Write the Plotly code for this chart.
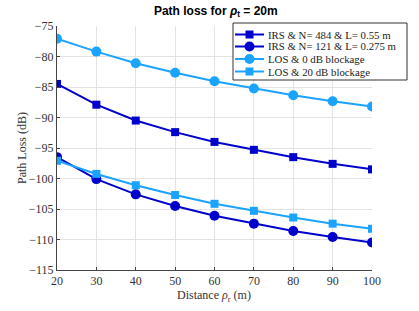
import plotly.graph_objects as go

distance = [20, 30, 40, 50, 60, 70, 80, 90, 100]
irs_484 = [-84.5, -87.9, -90.5, -92.4, -94.0, -95.3, -96.5, -97.6, -98.5]
irs_121 = [-96.5, -100.1, -102.6, -104.5, -106.1, -107.4, -108.6, -109.6, -110.5]
los_0 = [-77.1, -79.2, -81.1, -82.65, -84.05, -85.25, -86.35, -87.35, -88.2]
los_20 = [-97.1, -99.25, -101.1, -102.7, -104.15, -105.3, -106.4, -107.4, -108.25]
yticks = [-75, -80, -85, -90, -95, -100, -105, -110, -115]
legend_names = ["IRS & N= 484 & L= 0.55 m", "IRS & N= 121 & L= 0.275 m",
                "LOS & 0 dB blockage", "LOS & 20 dB blockage"]

DARK = "#0000CC"
LIGHT = "#1AA3FF"
SERIF = "Liberation Serif"

# plot area in pixels
W, H = 419, 311
L, R, T, B = 57, 47, 26, 41
PW, PH = W - L - R, H - T - B

def px(xp):
    return (xp - L) / PW

def py(yp):
    return (H - B - yp) / PH

fig = go.Figure()
series = [
    (irs_484, DARK, "square", 8),
    (irs_121, DARK, "circle", 10),
    (los_0, LIGHT, "circle", 10),
    (los_20, LIGHT, "square", 8),
]
for name, (vals, col, sym, sz) in zip(legend_names, series):
    fig.add_trace(go.Scatter(
        x=distance, y=vals, name=name, mode="lines+markers",
        line=dict(color=col, width=2),
        marker=dict(symbol=sym, size=sz, color=col),
        showlegend=False,
    ))

# manual legend (compact, as in the reference)
shapes = [dict(type="rect", xref="paper", yref="paper",
               x0=px(233), x1=px(407), y0=py(80), y1=py(23),
               fillcolor="white", line=dict(color="#333333", width=1), layer="above")]
annotations = []
rows = [34.5, 46.5, 59, 71.5]
for name, (vals, col, sym, sz), ry in zip(legend_names, series, rows):
    shapes.append(dict(type="line", xref="paper", yref="paper",
                       x0=px(235), x1=px(264), y0=py(ry), y1=py(ry),
                       line=dict(color=col, width=2), layer="above"))
    h = sz / 2
    shapes.append(dict(type="circle" if sym == "circle" else "rect",
                       xref="paper", yref="paper",
                       xsizemode="pixel", ysizemode="pixel",
                       xanchor=px(249.5), yanchor=py(ry),
                       x0=-h, x1=h, y0=-h, y1=h,
                       fillcolor=col, line=dict(color=col, width=0), layer="above"))
    annotations.append(dict(text=name, xref="paper", yref="paper",
                            x=px(266), y=py(ry), xanchor="left", yanchor="middle",
                            showarrow=False,
                            font=dict(family=SERIF, size=10.8, color="#222222")))

# axis titles placed as in the reference
annotations.append(dict(text="Path Loss (dB)", xref="paper", yref="paper",
                        x=px(22), y=py(148), xanchor="center", yanchor="middle",
                        textangle=-90, showarrow=False,
                        font=dict(family=SERIF, size=12, color="#333")))
annotations.append(dict(text="Distance <i>ρ</i><sub>r</sub> (m)", xref="paper", yref="paper",
                        x=px(214), y=py(296), xanchor="center", yanchor="middle",
                        showarrow=False,
                        font=dict(family=SERIF, size=12, color="#333")))

fig.update_layout(
    width=W, height=H,
    margin=dict(l=L, r=R, t=T, b=B, autoexpand=False),
    paper_bgcolor="white", plot_bgcolor="white",
    title=dict(text="<b>Path loss for <i>ρ</i><sub>t</sub> = 20m</b>",
               x=0.515, xanchor="center", y=0.98, yanchor="top",
               font=dict(family="Liberation Sans", size=12, color="black")),
    showlegend=False,
    shapes=shapes,
    annotations=annotations,
    font=dict(family=SERIF, size=11, color="#333333"),
)
fig.update_xaxes(
    range=[20, 100], tickvals=distance, ticks="inside", ticklen=3,
    tickcolor="#444", showline=True, linecolor="#444", linewidth=1,
    showgrid=True, gridcolor="#E3E3E3", zeroline=False, automargin=False,
    tickfont=dict(family=SERIF, size=12, color="#333"),
)
fig.update_yaxes(
    range=[-115, -75], tickvals=yticks, ticks="inside", ticklen=3,
    tickcolor="#444", showline=True, linecolor="#444", linewidth=1,
    showgrid=True, gridcolor="#E3E3E3", zeroline=False, automargin=False,
    tickfont=dict(family=SERIF, size=12, color="#333"),
)

fig.write_html("out.html", config={"displayModeBar": False},
               post_script="document.body.style.margin='0';")
